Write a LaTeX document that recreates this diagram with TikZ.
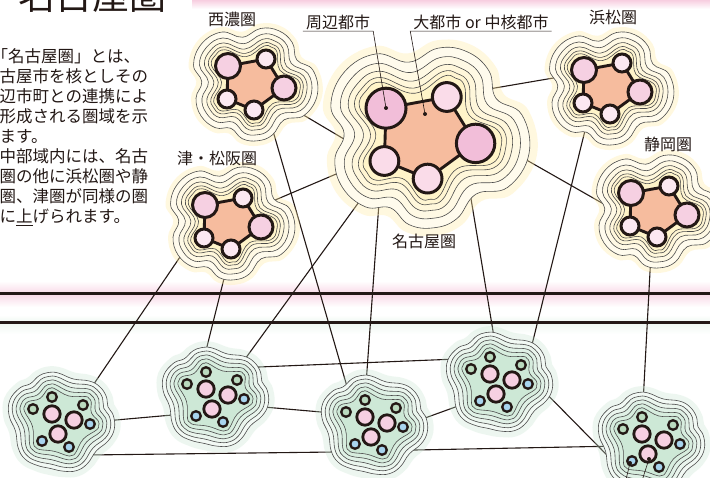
\documentclass[tikz,border=0pt]{standalone}
\usepackage{fontspec}
\setmainfont{Noto Sans CJK JP}

\definecolor{ink}{RGB}{35,24,21}
\definecolor{cream}{RGB}{255,236,165}
\definecolor{salmon}{RGB}{246,188,158}
\definecolor{rosedark}{RGB}{242,190,217}
\definecolor{rosemid}{RGB}{246,208,226}
\definecolor{roselight}{RGB}{250,220,233}
\definecolor{rosepale}{RGB}{252,232,241}
\definecolor{mint}{RGB}{196,228,206}
\definecolor{leaf}{RGB}{186,218,190}
\definecolor{sky}{RGB}{168,212,238}
\definecolor{blush}{RGB}{246,200,220}

\tikzset{
  hub/.style={circle,minimum size=80pt,inner sep=0pt,outer sep=0pt},
  ghub/.style={hub,minimum size=90pt},
  link/.style={draw=ink,line width=1.1pt},
  rim/.style={draw=black!70,line width=.6pt},
  basin/.style={fill=salmon,draw=ink,line width=2.9pt,line join=round},
  city/.style={draw=ink,line width=3pt},
  hamlet/.style={draw=ink,line width=2.3pt},
  bar/.style={draw=ink,line width=3pt},
  spot/.style={circle,fill=ink,inner sep=0pt,minimum size=4pt},
  leader/.style={draw=ink,line width=.6pt},
  lbl/.style={font=\fontsize{16}{18}\selectfont,text=ink,inner xsep=3pt,inner ysep=1.5pt},
  body/.style={font=\fontsize{16.5}{20}\selectfont,text=ink,inner sep=0pt},
}

% outline of the five-town cluster, pushed out by #1
\newcommand\ycloud[1]{plot[smooth cycle,tension=.7] coordinates {
  ({31+(12+#1)*cos(328.2)},{4+(12+#1)*sin(328.2)})
  ({31+(12+#1)*cos(11)},{4+(12+#1)*sin(11)})
  ({31+(12+#1)*cos(53.7)},{4+(12+#1)*sin(53.7)})
  ({16+(1.5+1.1*#1)*cos(53.7)},{15+(1.5+1.1*#1)*sin(53.7)})
  ({1+(9+#1)*cos(53.7)},{26+(9+#1)*sin(53.7)})
  ({1+(9+#1)*cos(83)},{26+(9+#1)*sin(83)})
  ({1+(9+#1)*cos(112.2)},{26+(9+#1)*sin(112.2)})
  ({-12.5+(1.5+1.1*#1)*cos(112.2)},{20.5+(1.5+1.1*#1)*sin(112.2)})
  ({-26+(9+#1)*cos(112.2)},{15+(9+#1)*sin(112.2)})
  ({-26+(9+#1)*cos(147)},{15+(9+#1)*sin(147)})
  ({-26+(9+#1)*cos(181.7)},{15+(9+#1)*sin(181.7)})
  ({-25.5+(1.5+1.1*#1)*cos(181.7)},{-1.5+(1.5+1.1*#1)*sin(181.7)})
  ({-25+(12.5+#1)*cos(181.7)},{-18+(12.5+#1)*sin(181.7)})
  ({-25+(12.5+#1)*cos(220.7)},{-18+(12.5+#1)*sin(220.7)})
  ({-25+(12.5+#1)*cos(259.6)},{-18+(12.5+#1)*sin(259.6)})
  ({-6+(1.5+1.1*#1)*cos(259.6)},{-21.5+(1.5+1.1*#1)*sin(259.6)})
  ({13+(9+#1)*cos(259.6)},{-25+(9+#1)*sin(259.6)})
  ({13+(9+#1)*cos(294)},{-25+(9+#1)*sin(294)})
  ({13+(9+#1)*cos(328.2)},{-25+(9+#1)*sin(328.2)})
  ({22+(1.5+1.1*#1)*cos(328.2)},{-10.5+(1.5+1.1*#1)*sin(328.2)})
}}

% outline of the ring of six small towns, pushed out by #1
\newcommand\gcloud[1]{plot[smooth cycle,tension=.7] coordinates {
  ({28+(4.8+#1)*cos(339.8)},{4+(4.8+#1)*sin(339.8)})
  ({28+(4.8+#1)*cos(11)},{4+(4.8+#1)*sin(11)})
  ({28+(4.8+#1)*cos(42.4)},{4+(4.8+#1)*sin(42.4)})
  ({17.5+(.8+1.1*#1)*cos(42.4)},{15.5+(.8+1.1*#1)*sin(42.4)})
  ({7+(4.8+#1)*cos(42.4)},{27+(4.8+#1)*sin(42.4)})
  ({7+(4.8+#1)*cos(72.5)},{27+(4.8+#1)*sin(72.5)})
  ({7+(4.8+#1)*cos(102.5)},{27+(4.8+#1)*sin(102.5)})
  ({-6.5+(3+1.1*#1)*cos(102.5)},{24+(3+1.1*#1)*sin(102.5)})
  ({-20+(4.8+#1)*cos(102.5)},{21+(4.8+#1)*sin(102.5)})
  ({-20+(4.8+#1)*cos(133.4)},{21+(4.8+#1)*sin(133.4)})
  ({-20+(4.8+#1)*cos(164.3)},{21+(4.8+#1)*sin(164.3)})
  ({-24.5+(.8+1.1*#1)*cos(164.3)},{5+(.8+1.1*#1)*sin(164.3)})
  ({-29+(4.8+#1)*cos(164.3)},{-11+(4.8+#1)*sin(164.3)})
  ({-29+(4.8+#1)*cos(201)},{-11+(4.8+#1)*sin(201)})
  ({-29+(4.8+#1)*cos(237.7)},{-11+(4.8+#1)*sin(237.7)})
  ({-19.5+(.8+1.1*#1)*cos(237.7)},{-17+(.8+1.1*#1)*sin(237.7)})
  ({-10+(4.8+#1)*cos(237.7)},{-23+(4.8+#1)*sin(237.7)})
  ({-10+(4.8+#1)*cos(261)},{-23+(4.8+#1)*sin(261)})
  ({-10+(4.8+#1)*cos(284.5)},{-23+(4.8+#1)*sin(284.5)})
  ({5.5+(.8+1.1*#1)*cos(284.5)},{-19+(.8+1.1*#1)*sin(284.5)})
  ({21+(4.8+#1)*cos(284.5)},{-15+(4.8+#1)*sin(284.5)})
  ({21+(4.8+#1)*cos(312)},{-15+(4.8+#1)*sin(312)})
  ({21+(4.8+#1)*cos(339.8)},{-15+(4.8+#1)*sin(339.8)})
  ({24.5+(.8+1.1*#1)*cos(339.8)},{-5.5+(.8+1.1*#1)*sin(339.8)})
}}

% #1 centre, #2 scale, #3 fill of the two big towns, #4 fill of the small ones
\newcommand\yellowblob[4]{%
  \begin{scope}[shift={#1},scale=#2]
    \fill[cream,opacity=.35] \ycloud{27};
    \foreach \off/\tint in {22/20,16/30,11/40,7/50,4/60}
      \filldraw[rim,fill=cream!\tint] \ycloud{\off};
    \filldraw[basin] (31,4) -- (1,26) -- (-26,15) -- (-25,-18) -- (13,-25) -- cycle;
    \filldraw[city,fill=#3] (-25,-18) circle[radius=12.5] (31,4) circle[radius=12];
    \filldraw[city,fill=#4] (13,-25) circle[radius=9] (1,26) circle[radius=9] (-26,15) circle[radius=9];
  \end{scope}}

\newcommand\greenblob[1]{%
  \begin{scope}[shift={#1}]
    \fill[mint,opacity=.3] \gcloud{26};
    \foreach \off/\tint in {20/22,16/36,12/52,8/68,4/84}
      \filldraw[rim,fill=mint!\tint] \gcloud{\off};
    \filldraw[city,line width=2.8pt,fill=rosemid] (-10,-6) circle[radius=8.2] (12,0) circle[radius=8.2] (-4,14) circle[radius=8.2];
    \filldraw[hamlet,fill=leaf] (-10,-23) circle[radius=4.8] (-29,-11) circle[radius=4.8] (21,-15) circle[radius=4.8];
    \filldraw[hamlet,fill=sky] (28,4) circle[radius=4.8] (7,27) circle[radius=4.8] (-20,21) circle[radius=4.8];
  \end{scope}}

\begin{document}
\begin{tikzpicture}[x=1pt,y=-1pt]
  \fill[white] (0,0) rectangle (710,478);
  \clip (0,0) rectangle (710,478);

  % pink strip at the top and the two bands across the middle
  \shade[top color=blush,bottom color=white] (192,-1) rectangle (710,9);
  \shade[top color=white,bottom color=blush!70] (0,281) rectangle (710,294);
  \shade[top color=blush!70,bottom color=white] (0,294) rectangle (710,307);
  \shade[top color=white,bottom color=mint!30] (0,315) rectangle (710,323);
  \shade[top color=mint!30,bottom color=white] (0,323) rectangle (710,334);
  \draw[bar] (0,294) -- (710,294);
  \draw[bar] (0,323) -- (710,323);

  % cluster centres
  \node[hub] (seino) at (253,84) {};
  \node[hub] (tsu) at (230,223) {};
  \node[hub] (hama) at (609,88) {};
  \node[hub] (shizu) at (656,211) {};
  \node[hub,minimum size=124pt] (nagoya) at (426,137) {};
  \node[ghub] (c1) at (62,420) {};
  \node[ghub] (c2) at (216,395) {};
  \node[ghub] (c3) at (375,423) {};
  \node[ghub] (c4) at (500,380) {};
  \node[ghub] (c5) at (652,440) {};

  \foreach \a/\b in {seino.-32/nagoya.194, tsu.28/nagoya.202, nagoya.46/hama.161,
      nagoya.-1/shizu.180, seino.-65/c3.128, tsu.202/c1.48, tsu.267/c2.103,
      nagoya.219/c2.51, nagoya.223/c3.101, nagoya.-47/c4.98, hama.237/c4.46,
      shizu.263/c5.101, c1.-1/c2.206, c1.-51/c3.220, c2.38/c4.152,
      c2.-15/c3.167, c3.4/c4.213, c4.-14/c5.206, c3.-37/c5.188}
    \draw[link] (\a) -- (\b);

  \yellowblob{(seino)}{1}{rosemid}{rosepale}
  \yellowblob{(tsu)}{1}{rosemid}{rosepale}
  \yellowblob{(hama)}{1}{rosemid}{rosepale}
  \yellowblob{(shizu)}{1}{rosemid}{rosepale}
  \yellowblob{(nagoya)}{1.6}{rosedark}{roselight}
  \foreach \c in {c1,c2,c3,c4,c5}
    {\greenblob{(\c)}}

  % names
  \node[lbl] (seinoname) at (232,19) {西濃圏};
  \node[lbl] (hamaname) at (613,17) {浜松圏};
  \node[lbl] (tsuname) at (217,158) {津・松阪圏};
  \node[lbl] (shizuname) at (668,144) {静岡圏};
  \node[lbl] (nagoyaname) at (424,241) {名古屋圏};

  % callouts
  \node[spot] (cityA) at (386,108) {};
  \node[spot] (cityB) at (425,114) {};
  \node[lbl] (peri) at (338,22) {周辺都市};
  \node[lbl] (core) at (481,22) {大都市 or 中核都市};
  \draw[leader] (peri.south west) -- (peri.south east) -- (cityA);
  \draw[leader] (core.south east) -- (core.south west) -- (cityB);

  \node[spot] (c5a) at (630,463) {};
  \node[spot] (c5b) at (649,459) {};
  \coordinate (c5a-end) at (623.5,490);
  \coordinate (c5b-end) at (639,490);
  \draw[leader] (c5a) -- (c5a-end);
  \draw[leader] (c5b) -- (c5b-end);
  \node[lbl] (villname) at (568,486) {周辺市町村};

  % heading and text
  \node[anchor=base west,inner sep=0pt,font=\fontsize{37}{40}\selectfont,text=ink] (title) at (18,9.5) {名古屋圏};
  \foreach \x/\t [count=\i] in {-8.5/「名古屋圏」とは、, -17/名古屋市を核としその,
      -17/周辺市町との連携によ, -17/り形成される圏域を示, -17/します。,
      -17/　中部域内には、名古, -17/屋圏の他に浜松圏や静, -17/岡圏、津圏が同様の圏,
      -17/域に\underline{上}げられます。}
    \node[body,anchor=base west] (line\i) at (\x,{63+20*(\i-1)}) {\t};
\end{tikzpicture}
\end{document}
